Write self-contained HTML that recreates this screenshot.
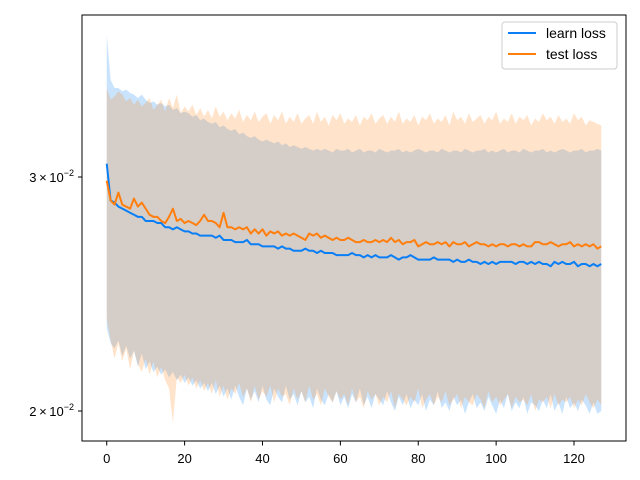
<!DOCTYPE html>
<html><head><meta charset="utf-8"><style>
body{margin:0;background:#fff}
svg{display:block;font-family:"Liberation Sans","DejaVu Sans",sans-serif}
</style></head><body>
<svg id="chart" width="640" height="480" viewBox="0 0 640 480" xmlns="http://www.w3.org/2000/svg">
<rect x="0" y="0" width="640" height="480" fill="#fff"/>
<g id="plot"></g>
<rect x="82" y="15" width="544" height="426" fill="none" stroke="#000" stroke-width="1"/>
<g id="axes"></g>
<g>
<rect x="502" y="22" width="115" height="47" rx="3" fill="#fff" fill-opacity="0.8" stroke="#ccc"/>
<line x1="508" y1="33" x2="536" y2="33" stroke="#0a7ff5" stroke-width="2"/>
<text x="546" y="38" font-size="14">learn loss</text>
<line x1="508" y1="54" x2="536" y2="54" stroke="#ff7f0e" stroke-width="2"/>
<text x="546" y="59" font-size="14">test loss</text>
</g>
</svg>
<script>
// values in units of 1e-3
const learnMean=[30.7,28.8,28.7,28.5,28.4,28.3,28.2,28.1,28.0,28.0,27.8,27.8,27.8,27.7,27.7,27.5,27.5,27.4,27.5,27.4,27.3,27.3,27.2,27.2,27.1,27.1,27.1,27.1,27.0,27.1,26.9,26.9,26.9,26.8,26.8,26.8,26.9,26.7,26.7,26.7,26.6,26.6,26.6,26.6,26.5,26.6,26.5,26.5,26.4,26.4,26.4,26.5,26.4,26.4,26.3,26.4,26.3,26.3,26.3,26.2,26.2,26.2,26.2,26.3,26.2,26.2,26.1,26.2,26.1,26.2,26.1,26.1,26.1,26.2,26.1,26.0,26.1,26.1,26.2,26.1,26.0,26.0,26.0,26.0,26.1,26.0,26.0,26.0,26.0,25.9,26.0,25.9,25.9,26.0,25.9,25.9,25.8,25.9,25.8,25.9,25.8,25.9,25.9,25.9,25.9,25.8,25.9,25.9,25.8,25.9,25.8,25.9,25.8,25.8,25.7,25.9,25.8,25.9,25.8,25.8,25.9,25.7,25.8,25.8,25.7,25.8,25.7,25.8];
const testMean=[29.8,28.8,28.6,29.2,28.6,28.5,28.4,28.9,28.5,28.7,28.4,28.1,28.0,28.0,27.8,27.7,28.0,28.4,27.8,27.9,27.7,27.8,27.7,27.6,27.8,28.1,27.8,27.8,27.7,27.5,28.2,27.5,27.5,27.4,27.5,27.4,27.5,27.2,27.4,27.2,27.4,27.1,27.3,27.2,27.3,27.1,27.2,27.1,27.2,27.1,27.0,26.9,27.2,27.1,27.2,27.0,27.1,27.0,26.9,27.0,26.9,26.9,27.0,26.9,26.8,26.8,26.9,26.8,26.8,26.9,26.8,26.9,26.8,27.0,26.8,26.9,26.7,26.8,26.8,26.9,26.6,26.7,26.8,26.7,26.7,26.8,26.7,26.8,26.6,26.8,26.7,26.7,26.8,26.6,26.7,26.8,26.7,26.7,26.6,26.7,26.6,26.7,26.7,26.6,26.7,26.7,26.6,26.7,26.6,26.6,26.8,26.8,26.7,26.7,26.8,26.7,26.6,26.7,26.7,26.8,26.6,26.7,26.6,26.7,26.6,26.7,26.5,26.6];
const learnUpper=[38.4,35.5,35.0,35.0,34.8,34.9,34.7,34.6,34.4,34.6,34.3,34.1,34.2,34.0,34.1,33.9,34.0,33.7,33.8,33.5,33.6,33.5,33.3,33.4,33.1,33.2,33.0,32.9,33.0,32.7,32.8,32.6,32.5,32.6,32.3,32.4,32.2,32.1,32.2,32.0,31.9,32.0,31.9,31.8,31.9,31.7,31.8,31.6,31.7,31.6,31.5,31.6,31.5,31.4,31.5,31.4,31.5,31.4,31.3,31.5,31.4,31.4,31.5,31.3,31.4,31.5,31.3,31.4,31.4,31.3,31.5,31.4,31.3,31.4,31.4,31.5,31.3,31.4,31.3,31.4,31.5,31.4,31.3,31.4,31.4,31.3,31.5,31.4,31.3,31.4,31.4,31.3,31.5,31.4,31.3,31.4,31.4,31.5,31.3,31.4,31.3,31.4,31.5,31.3,31.4,31.4,31.3,31.5,31.4,31.3,31.4,31.4,31.5,31.3,31.4,31.3,31.4,31.5,31.4,31.3,31.4,31.4,31.5,31.3,31.4,31.4,31.5,31.4];
const learnLower=[23.1,22.5,22.3,22.6,22.0,22.4,21.9,22.2,21.6,22.1,21.5,21.8,21.4,21.6,21.3,21.5,21.2,21.4,21.1,21.3,21.0,21.2,20.9,21.1,20.8,21.0,20.7,21.0,20.6,20.9,20.5,20.8,20.4,20.9,20.5,20.2,20.8,20.4,20.7,20.3,20.9,20.4,20.2,20.8,20.5,20.3,20.9,20.4,20.6,20.2,20.7,20.3,20.5,20.1,20.8,20.4,20.2,20.6,20.3,20.7,20.2,20.5,20.1,20.6,20.3,20.8,20.2,20.5,20.1,20.6,20.4,20.2,20.7,20.3,20.0,20.5,20.2,20.6,20.1,20.4,20.2,20.6,20.0,20.4,20.2,20.7,20.1,20.3,20.0,20.5,20.2,20.4,19.9,20.3,20.6,20.1,20.3,20.0,20.5,20.2,19.9,20.4,20.1,20.6,20.0,20.3,20.1,20.5,19.9,20.3,20.2,20.0,20.4,20.1,20.6,20.0,20.3,19.9,20.5,20.1,20.3,20.0,20.4,20.2,19.9,20.3,19.9,20.0];
const testUpper=[35.0,34.3,34.5,34.8,34.6,34.2,34.4,34.0,34.3,33.9,34.1,34.4,33.7,34.0,34.3,33.6,34.4,33.8,34.6,33.5,33.9,33.6,34.0,33.4,33.8,33.3,33.7,33.2,33.9,33.3,33.6,33.1,33.5,33.2,33.7,33.0,33.4,33.1,33.6,33.0,33.3,33.5,32.9,33.4,33.1,33.6,32.9,33.3,33.0,33.5,32.9,33.2,33.4,32.9,33.6,33.0,33.3,32.8,33.4,33.1,33.5,32.9,33.2,33.0,33.4,32.8,33.3,33.1,33.5,32.9,33.2,33.4,32.9,33.3,33.0,33.6,32.9,33.2,33.0,33.4,32.8,33.3,33.1,33.5,32.9,33.2,33.0,33.4,32.8,33.6,33.1,33.3,32.9,33.5,33.0,33.2,33.4,32.9,33.3,33.1,33.6,32.9,33.2,33.0,33.5,32.9,33.3,33.1,33.4,32.8,33.2,33.0,33.5,33.1,33.3,32.9,33.4,33.0,33.2,32.9,33.5,33.1,33.3,32.8,33.1,33.0,32.9,32.8];
const testLower=[23.5,22.6,21.9,22.5,21.8,22.3,21.5,22.2,21.7,21.4,21.9,21.3,21.8,21.2,21.6,21.1,20.8,19.6,21.2,21.0,21.3,20.9,21.2,20.8,21.1,20.7,21.0,20.6,21.1,20.5,20.9,20.4,20.8,20.6,21.0,20.5,20.8,20.3,20.9,20.4,20.7,20.5,20.9,20.3,20.8,20.5,20.6,20.2,20.8,20.4,20.7,20.3,20.9,20.4,20.6,20.2,20.8,20.5,20.3,20.7,20.4,20.6,20.2,20.8,20.3,20.5,20.1,20.7,20.4,20.6,20.2,20.5,20.3,20.7,20.1,20.6,20.4,20.2,20.5,20.3,20.8,20.1,20.4,20.6,20.2,20.5,20.3,20.7,20.2,20.4,20.6,20.1,20.5,20.3,20.2,20.6,20.4,20.1,20.7,20.3,20.5,20.2,20.4,20.6,20.1,20.5,20.3,20.4,20.2,20.6,20.0,20.4,20.3,20.5,20.1,20.6,20.2,20.4,20.3,20.5,20.1,20.4,20.2,20.6,20.3,20.1,20.4,20.2];
const xTicks=[0,20,40,60,80,100,120];
const yTicks=[20,30];
const yTickLabels=["2","3"];

const NS="http://www.w3.org/2000/svg";
const X0=82,X1=626,XMIN=-6.35,XMAX=133.35;
function sx(x){return X0+(x-XMIN)/(XMAX-XMIN)*(X1-X0);}
function sy(v){return 177-1329*Math.log10(v/30);}
const plot=document.getElementById('plot'),axes=document.getElementById('axes');
function mk(tag,attrs,parent){const e=document.createElementNS(NS,tag);for(const k in attrs)e.setAttribute(k,attrs[k]);parent.appendChild(e);return e;}
function band(up,lo,fill,name){
  let d='';up.forEach((v,i)=>{d+=(i?'L':'M')+sx(i).toFixed(2)+','+sy(v).toFixed(2);});
  for(let i=lo.length-1;i>=0;i--)d+='L'+sx(i).toFixed(2)+','+sy(lo[i]).toFixed(2);
  const p=mk('path',{d:d+'Z',fill:fill},plot);
  
  
}
function line(arr,col,name){
  const pts=arr.map((v,i)=>sx(i).toFixed(2)+','+sy(v).toFixed(2)).join(' ');
  const p=mk('polyline',{points:pts,fill:'none',stroke:col,'stroke-width':2,'stroke-linejoin':'round'},plot);
  
  
}
band(learnUpper,learnLower,'rgba(10,127,245,0.22)','learn-loss-band');
band(testUpper,testLower,'rgba(255,127,14,0.22)','test-loss-band');
line(learnMean,'#0a7ff5','learn-loss-line');
line(testMean,'#ff7f0e','test-loss-line');
xTicks.forEach(t=>{
  const x=sx(t);
  const l=mk('line',{x1:x,y1:441,x2:x,y2:445.5,stroke:'#000'},axes);
  
  
  const tx=mk('text',{x:x,y:463,'font-size':13,'text-anchor':'middle'},axes);
  tx.textContent=t;
  
  
});
yTicks.forEach((t,i)=>{
  const y=sy(t);
  const l=mk('line',{x1:78,y1:y,x2:82,y2:y,stroke:'#000'},axes);
  
  
  const tx=mk('text',{x:74,y:y+5,'font-size':13,'text-anchor':'end'},axes);
  tx.innerHTML=yTickLabels[i]+'\u2009×\u200910<tspan dy="-6" font-size="9">\u22122</tspan>';
  
  
});
</script>
</body></html>
